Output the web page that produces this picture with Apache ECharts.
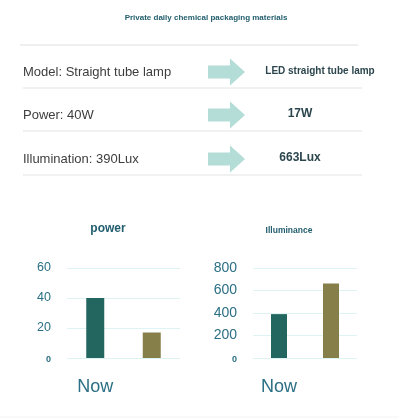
<!DOCTYPE html>
<html>
<head>
<meta charset="utf-8">
<script src="https://cdn.jsdelivr.net/npm/echarts@6/dist/echarts.min.js"></script>
<style>
  html, body { margin: 0; padding: 0; background: #fff; }
  #chart { width: 399px; height: 418px; }
</style>
</head>
<body>
<div id="chart"></div>
<script>
const pageTitle = "Private daily chemical packaging materials";
const rowLabels = ["Model: Straight tube lamp", "Power: 40W", "Illumination: 390Lux"];
const rowResults = ["LED straight tube lamp", "17W", "663Lux"];
const rowY = [72, 115, 159];

const categories = ["Now", ""];
const powerValues = [40, 17];
const illumValues = [390, 663];
const barColors = ["#22665f", "#867f4a"];

const font = "Liberation Sans, Arial, sans-serif";
const tealText = "#2b6f84";

function arrow(cy) {
  return {
    type: "polygon",
    shape: {
      points: [
        [208, cy - 6.5], [230, cy - 6.5], [230, cy - 13.5], [245, cy],
        [230, cy + 13.5], [230, cy + 6.5], [208, cy + 6.5]
      ]
    },
    style: { fill: "#b3ddd6" }
  };
}

function hline(x1, x2, y, color) {
  return {
    type: "line",
    shape: { x1: x1, y1: y, x2: x2, y2: y },
    style: { stroke: color, lineWidth: 1.2 }
  };
}

const graphics = [
  {
    type: "text",
    x: 206, y: 18,
    style: {
      text: pageTitle, font: "bold 8px " + font, fill: "#235e6e",
      textAlign: "center", textVerticalAlign: "middle"
    }
  },
  hline(20, 358, 45, "#e0e0e0")
];

rowLabels.forEach((label, i) => {
  const y = rowY[i];
  graphics.push({
    type: "text", x: 23, y: y,
    style: { text: label, font: "13px " + font, fill: "#3d3d3d", textVerticalAlign: "middle" }
  });
  graphics.push(arrow(y));
  graphics.push({
    type: "text", x: i === 0 ? 320 : 300, y: y - 1,
    style: {
      text: rowResults[i], font: (i === 0 ? "bold 10px " : "bold 12px ") + font,
      fill: "#2c464e", textAlign: "center", textVerticalAlign: "middle"
    }
  });
  graphics.push(hline(23, 362, y + 16, "#e3e3e3"));
});
graphics.push(hline(0, 399, 417, "#f3f3f3"));

function yLabel(bigSize) {
  return {
    color: tealText,
    fontFamily: font,
    margin: 16,
    formatter: (v) => (v === 0 ? "{z|0}" : "{b|" + v + "}"),
    rich: {
      z: { fontSize: 9, fontWeight: "bold", color: tealText, fontFamily: font, padding: [4, 0, 0, 0] },
      b: { fontSize: bigSize, color: tealText, fontFamily: font }
    }
  };
}

const chart = echarts.init(document.getElementById("chart"));
chart.setOption({
  animation: false,
  backgroundColor: "#fff",
  graphic: graphics,
  title: [
    {
      text: "power", left: 108, top: 223, textAlign: "center", padding: 0,
      textStyle: { fontSize: 12, fontWeight: "bold", color: "#235e6e", fontFamily: font }
    },
    {
      text: "Illuminance", left: 289, top: 226, textAlign: "center", padding: 0,
      textStyle: { fontSize: 8.5, fontWeight: "bold", color: "#235e6e", fontFamily: font }
    }
  ],
  grid: [
    { left: 67, width: 113, top: 268, height: 90 },
    { left: 253, width: 104, top: 268, height: 90 }
  ],
  xAxis: [0, 1].map((g) => ({
    type: "category",
    gridIndex: g,
    data: categories,
    axisLine: { show: false },
    axisTick: { show: false },
    axisLabel: { fontSize: 18, color: tealText, fontFamily: font, margin: 20 }
  })),
  yAxis: [
    {
      type: "value", gridIndex: 0, min: 0, max: 60, interval: 20,
      axisLine: { show: false }, axisTick: { show: false },
      axisLabel: yLabel(12.5),
      splitLine: { lineStyle: { color: "#def3f3", width: 1 } }
    },
    {
      type: "value", gridIndex: 1, min: 0, max: 800, interval: 200,
      axisLine: { show: false }, axisTick: { show: false },
      axisLabel: yLabel(14),
      splitLine: { lineStyle: { color: "#def3f3", width: 1 } }
    }
  ],
  series: [
    {
      type: "bar", xAxisIndex: 0, yAxisIndex: 0, barWidth: 18,
      data: powerValues.map((v, i) => ({ value: v, itemStyle: { color: barColors[i] } }))
    },
    {
      type: "bar", xAxisIndex: 1, yAxisIndex: 1, barWidth: 16,
      data: illumValues.map((v, i) => ({ value: v, itemStyle: { color: barColors[i] } }))
    }
  ]
});
</script>
</body>
</html>
